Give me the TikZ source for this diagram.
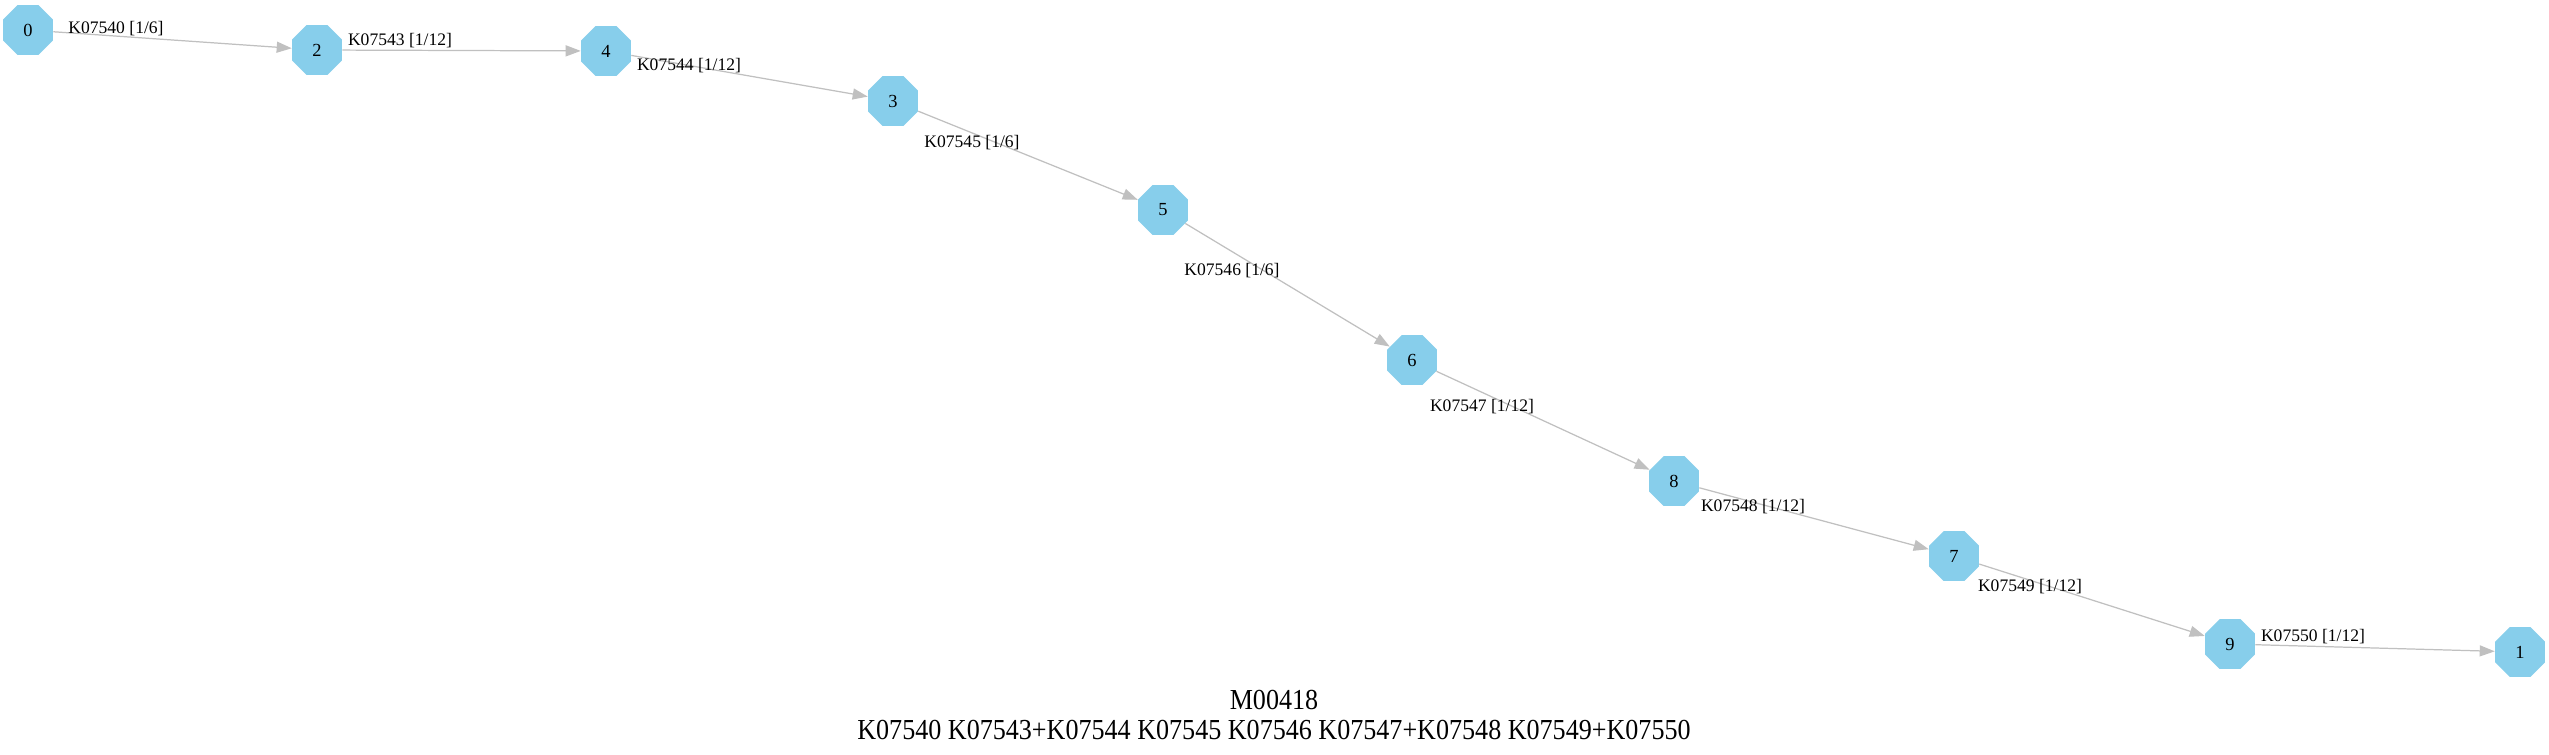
\PassOptionsToPackage{svgnames}{xcolor}
\documentclass[tikz,border=0pt]{standalone}
\usepackage{fontspec}
\setmainfont{Liberation Serif}
\usetikzlibrary{shapes.geometric,arrows.meta}

\begin{document}
\begin{tikzpicture}[x=0.02cm,y=-0.02cm,
    >={Triangle[length=0.3cm,width=0.22cm]},
    octa/.style={regular polygon,regular polygon sides=8,minimum size=1.08cm,
                 inner sep=0pt,fill=SkyBlue,font=\fontsize{10.5}{12}\selectfont},
    elabel/.style={inner sep=0pt,font=\fontsize{10}{12}\selectfont},
    kedge/.style={->,draw=Silver,line width=0.7pt},
    title/.style={inner sep=0pt,font=\fontsize{16.5}{18}\selectfont}]

    \useasboundingbox[fill=white] (0,0) rectangle (2549,754);

    % module nodes
    \node[octa] (n0) at (28,30)   {0};
    \node[octa] (n2) at (317,50)  {2};
    \node[octa] (n4) at (606,51)  {4};
    \node[octa] (n3) at (893,101) {3};
    \node[octa] (n5) at (1163,210) {5};
    \node[octa] (n6) at (1412,360) {6};
    \node[octa] (n8) at (1674,481) {8};
    \node[octa] (n7) at (1954,556) {7};
    \node[octa] (n9) at (2230,644) {9};
    \node[octa] (n1) at (2520,652) {1};

    % reactions
    \draw[kedge] (n0) -- (n2);
    \draw[kedge] (n2) -- (n4);
    \draw[kedge] (n4) -- (n3);
    \draw[kedge] (n3) -- (n5);
    \draw[kedge] (n5) -- (n6);
    \draw[kedge] (n6) -- (n8);
    \draw[kedge] (n8) -- (n7);
    \draw[kedge] (n7) -- (n9);
    \draw[kedge] (n9) -- (n1);

    \node[elabel] (L02) at (116,29)  {K07540 [1/6]};
    \node[elabel] (L24) at (400,41)  {K07543 [1/12]};
    \node[elabel] (L43) at (689,66)  {K07544 [1/12]};
    \node[elabel] (L35) at (972,143) {K07545 [1/6]};
    \node[elabel] (L56) at (1232,271) {K07546 [1/6]};
    \node[elabel] (L68) at (1482,407) {K07547 [1/12]};
    \node[elabel] (L87) at (1753,507) {K07548 [1/12]};
    \node[elabel] (L79) at (2030,587) {K07549 [1/12]};
    \node[elabel] (L91) at (2313,637) {K07550 [1/12]};

%   \node[title] (T) at (1274,715) {...};
    \node[title] (T1) at (1274,700) {\scalebox{0.9}[1]{M00418}};
    \node[title] (T2) at (1274,730) {\scalebox{0.9}[1]{K07540 K07543+K07544 K07545 K07546 K07547+K07548 K07549+K07550}};

\end{tikzpicture}
\end{document}
